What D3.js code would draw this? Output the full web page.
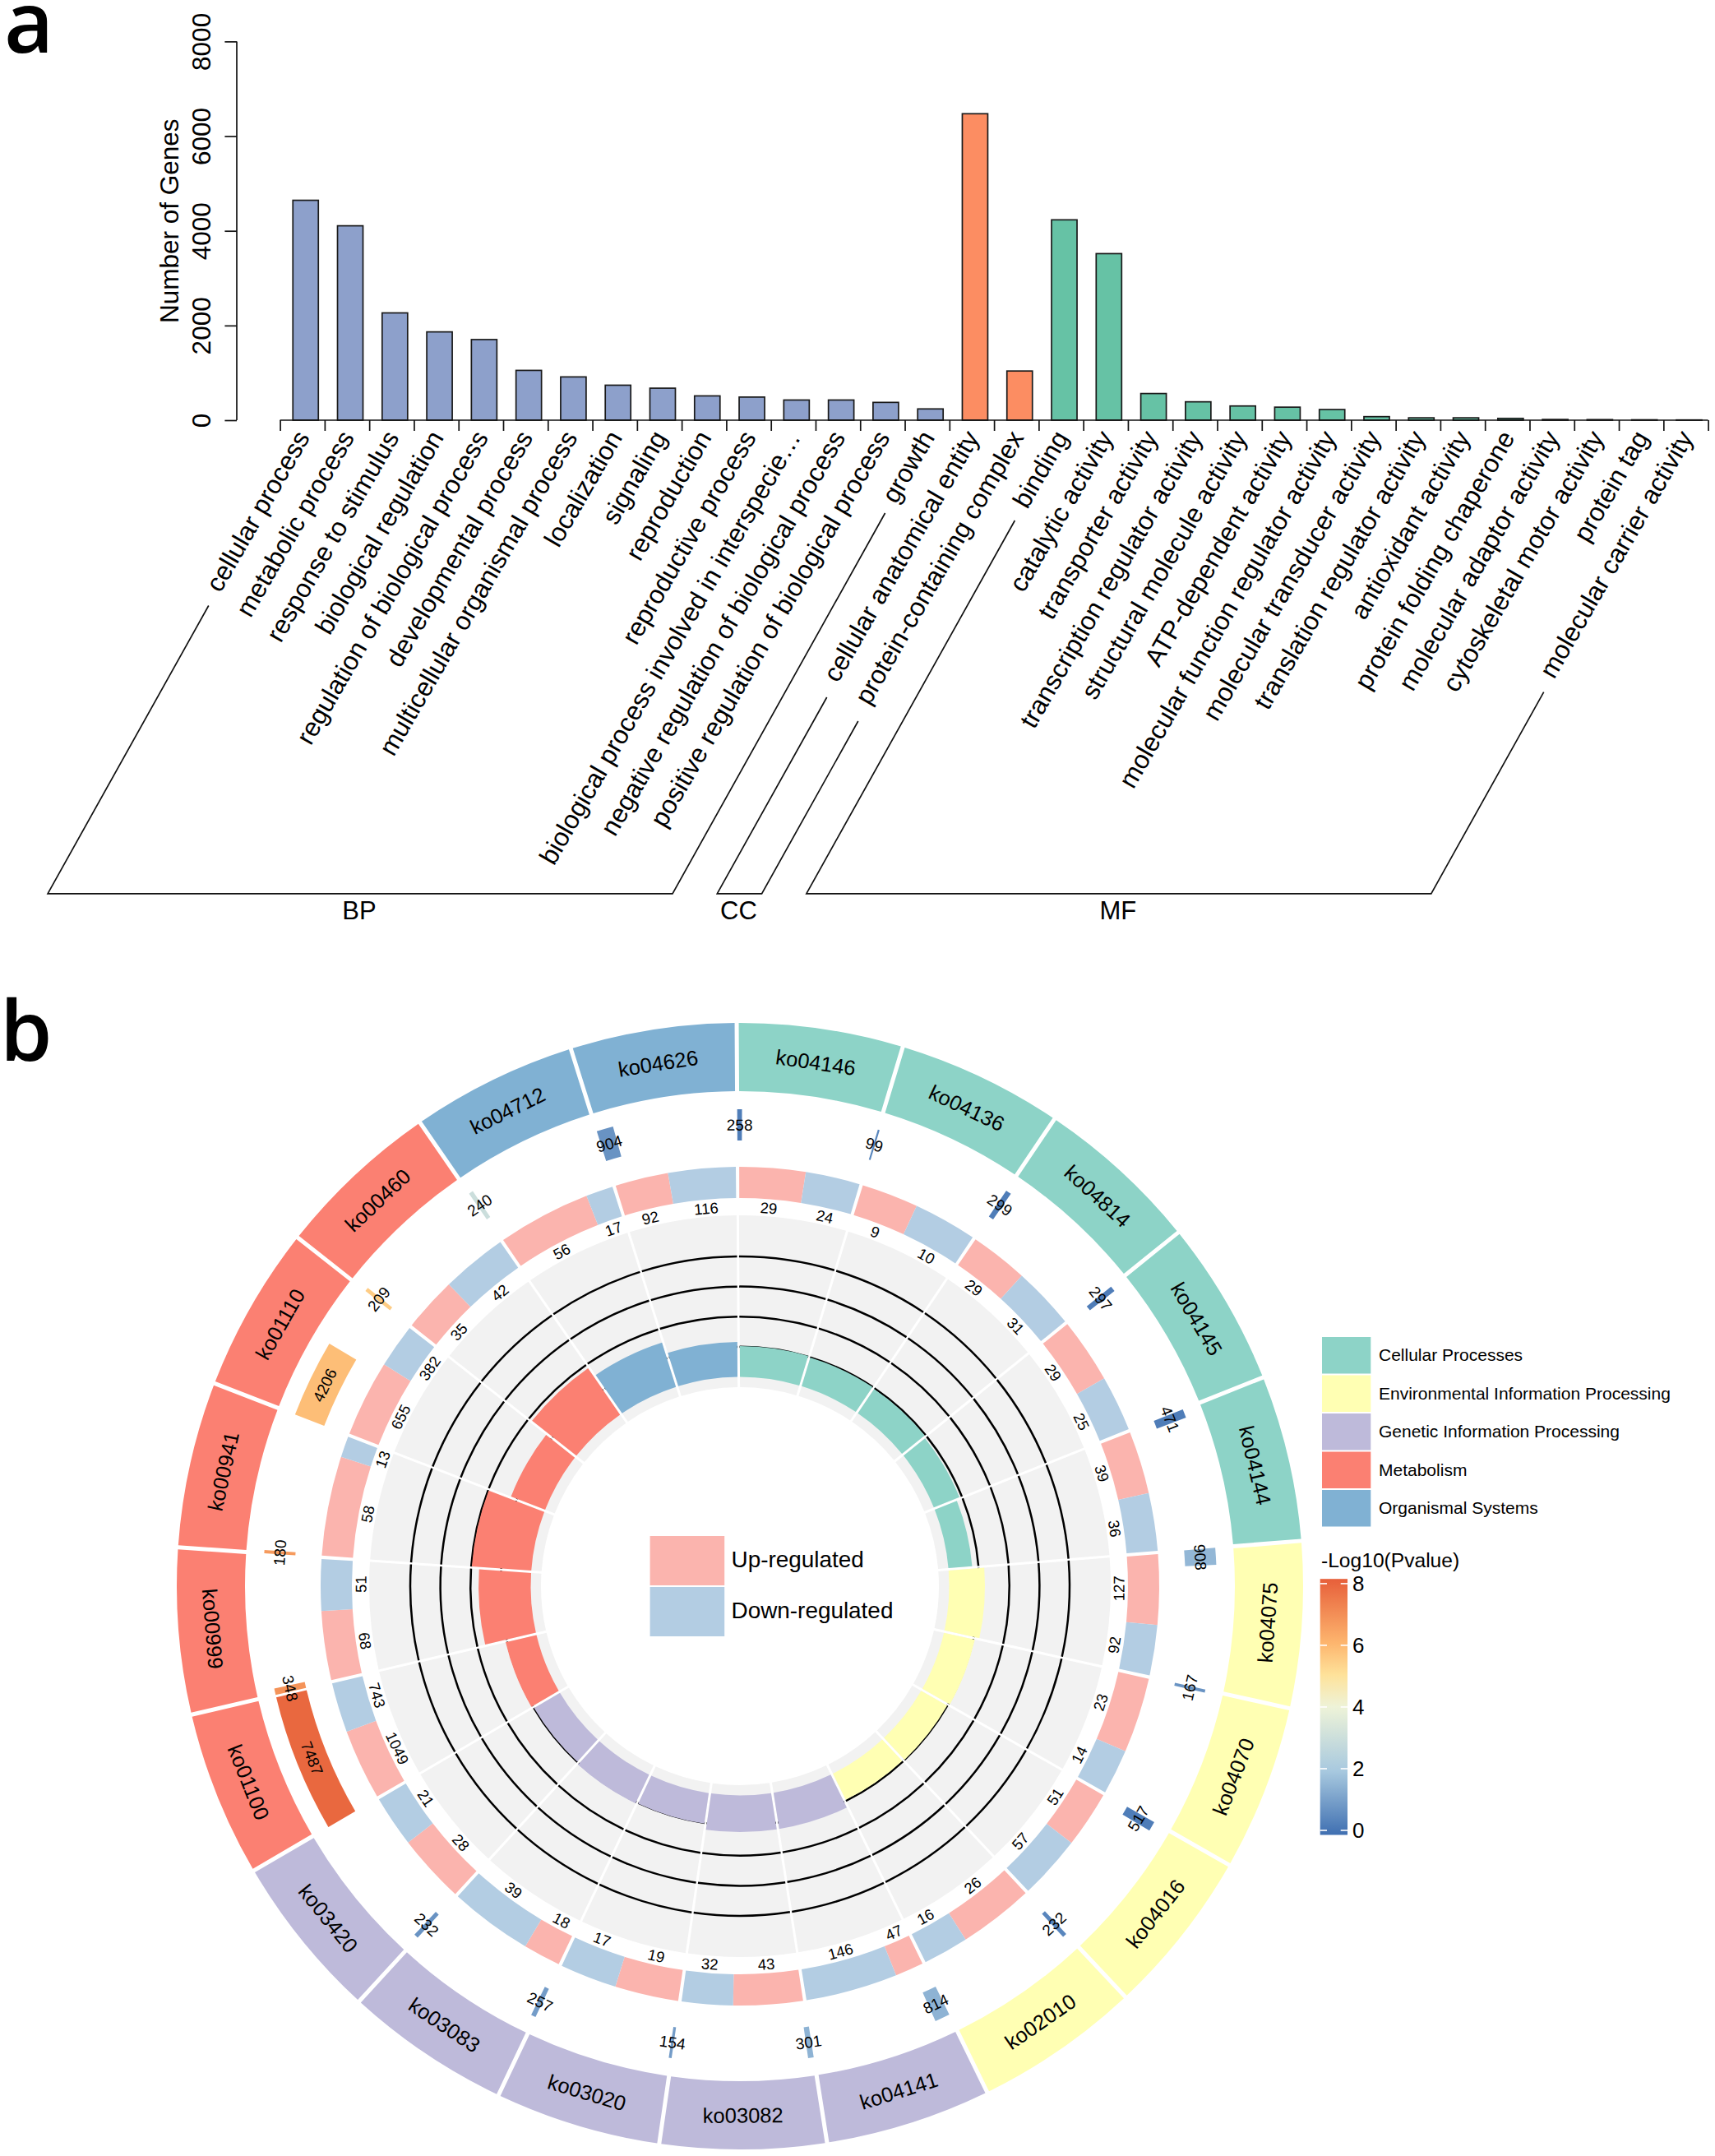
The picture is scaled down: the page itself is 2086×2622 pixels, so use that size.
<!DOCTYPE html>
<html><head><meta charset="utf-8">
<style>html,body{margin:0;padding:0;background:#fff}svg{display:block}text{font-family:"Liberation Sans",Arial,sans-serif;fill:#000}</style>
<script src="https://cdn.jsdelivr.net/npm/d3@7/dist/d3.min.js"></script>
</head><body><svg id="c" width="2086" height="2622"></svg>
<script>
// ---------- Panel a data ----------
const goTerms = ["cellular process","metabolic process","response to stimulus","biological regulation","regulation of biological process","developmental process","multicellular organismal process","localization","signaling","reproduction","reproductive process","biological process involved in interspecie…","negative regulation of biological process","positive regulation of biological process","growth","cellular anatomical entity","protein-containing complex","binding","catalytic activity","transporter activity","transcription regulator activity","structural molecule activity","ATP-dependent activity","molecular function regulator activity","molecular transducer activity","translation regulator activity","antioxidant activity","protein folding chaperone","molecular adaptor activity","cytoskeletal motor activity","protein tag","molecular carrier activity"];
const goCounts = [4645,4106,2266,1865,1703,1052,914,739,676,513,488,426,426,376,238,6473,1039,4232,3518,563,388,300,275,225,75,50,50,38,15,12,8,5];
const goClass = ["BP","BP","BP","BP","BP","BP","BP","BP","BP","BP","BP","BP","BP","BP","BP","CC","CC","MF","MF","MF","MF","MF","MF","MF","MF","MF","MF","MF","MF","MF","MF","MF"];
const classNames = ["BP","CC","MF"];
const classColors = ["#8DA0CB","#FC8D62","#66C2A5"];
const yTicks = [0,2000,4000,6000,8000];
// label-clearance of each bracket arm (y of the arm's upper end: first term, last term)
const bracketTops = [[736.5,624],[848,877],[633,841.7]];

// ---------- Panel b data ----------
const koIds = ["ko04146","ko04136","ko04814","ko04145","ko04144","ko04075","ko04070","ko04016","ko02010","ko04141","ko03082","ko03020","ko03083","ko03420","ko01100","ko00999","ko00941","ko01110","ko00460","ko04712","ko04626"];
const koGroup = [0,0,0,0,0,1,1,1,1,2,2,2,2,2,3,3,3,3,3,4,4];
const groupNames = ["Cellular Processes","Environmental Information Processing","Genetic Information Processing","Metabolism","Organismal Systems"];
const groupColors = ["#8DD3C7","#FFFFB3","#BEBADA","#FB8072","#80B1D3"];
const geneCounts = [258,99,299,297,471,908,167,517,232,814,301,154,257,232,7487,348,180,4206,209,240,904];
const pLog = [0.3,0.5,0.3,0.3,0.3,1.6,0.8,0.3,0.5,1.5,1.5,1.0,1.0,0.8,7.8,6.8,6.6,5.8,5.5,3.0,0.8];
const upCounts = [29,9,29,29,39,127,23,51,26,47,43,19,18,28,1049,68,58,655,35,56,92];
const downCounts = [24,10,31,25,36,92,14,57,16,146,32,17,39,21,743,51,13,382,42,17,116];
const richFactor = [0.256,0.249,0.242,0.229,0.198,0.297,0.263,0.249,0.242,0.304,0.304,0.256,0.263,0.249,0.263,0.433,0.495,0.304,0.468,0.386,0.29];
const richTicks = [0.25,0.5,0.75,1];
const pStops = [0,2,4,5,6,8];
const pColors = ["#3F6FB1","#A8C9DF","#EEF3D8","#FEE29A","#FDB56E","#E75F3A"];
const pTicks = [0,2,4,6,8];
const regNames = ["Up-regulated","Down-regulated"];
const regColors = ["#FBB4AE","#B3CDE3"];

const svg = d3.select("#c");
const xf = (x,y,r)=>`translate(${x},${y})`+(r?` rotate(${r})`:"");

// panel letters
svg.append("text").attr("x",5).attr("y",64).attr("font-size",104).attr("font-weight",600).style("font-family","'Open Sans'").text("a");
svg.append("text").attr("x",0).attr("y",1290).attr("font-size",102).attr("font-weight",600).style("font-family","'Open Sans'").text("b");

// ---------- Panel a ----------
const yS = d3.scaleLinear().domain([0,8000]).range([511,50.4]);
const xT = d3.scaleLinear().domain([0,goTerms.length]).range([340.6,2077.6]);
const xB = d3.scaleBand().domain(goTerms).range([344.6,2081.6]).paddingInner(1-31/54.28).paddingOuter((1-31/54.28)/2);
const cCol = d3.scaleOrdinal(classNames,classColors);
const a = svg.append("g");

a.selectAll("rect").data(goTerms).join("rect")
  .attr("x",d=>xB(d)).attr("width",xB.bandwidth())
  .attr("y",(d,i)=>yS(goCounts[i])).attr("height",(d,i)=>yS(0)-yS(goCounts[i]))
  .attr("fill",(d,i)=>cCol(goClass[i])).attr("stroke","#1a1a1a").attr("stroke-width",1.7);

const yAx = a.append("g").attr("transform",xf(288,0)).call(d3.axisLeft(yS).tickValues(yTicks).tickSize(14.6).tickFormat(d3.format("d")));
yAx.selectAll("line,path").attr("stroke","#111").attr("stroke-width",1.7);
yAx.selectAll("text").attr("font-size",31.5)
   .attr("x",null).attr("dy",null).attr("text-anchor","middle")
   .attr("transform",xf(256-288,0,-90));
yAx.select(".domain").attr("d",`M0,${yS(8000)}V${yS(0)}`);
a.append("text").attr("font-size",31.5).attr("text-anchor","middle").attr("transform",xf(217,268.8,-90)).text("Number of Genes");

const xAx = a.append("g").attr("transform",xf(0,511)).call(d3.axisBottom(xT).tickValues(d3.range(goTerms.length+1)).tickSize(13).tickFormat(""));
xAx.selectAll("line,path").attr("stroke","#111").attr("stroke-width",1.7);
xAx.select(".domain").attr("d",`M${xT(0)},0H${xT(goTerms.length)}`);

const labelShift = 10, labelY = 532, bottomY = 1086.8, slope = 1.79;
a.selectAll("text.t").data(goTerms).join("text").attr("class","t")
  .attr("font-size",31.6).attr("text-anchor","end")
  .attr("transform",(d,i)=>xf(xT(i+.5)+labelShift,labelY,-60)).text(d=>d);

classNames.forEach((c,k)=>{
  const idx = goClass.map((g,i)=>g===c?i:-1).filter(i=>i>=0);
  const xa = xT(idx[0]+.5)+12, xb = xT(idx[idx.length-1]+.5)+12;
  const foot = x=>x-(bottomY-511)/slope;
  const arm = (x,top)=>[foot(x)+(bottomY-top)/slope,top];
  a.append("path").attr("fill","none").attr("stroke","#111").attr("stroke-width",1.7)
   .attr("d",d3.line()([arm(xa,bracketTops[k][0]),[foot(xa),bottomY],[foot(xb),bottomY],arm(xb,bracketTops[k][1])]));
  a.append("text").attr("font-size",31).attr("text-anchor","middle").attr("x",(foot(xa)+foot(xb))/2-1).attr("y",1118).text(c);
});

// ---------- Panel b ----------
const cx = 900, cy = 1929;
const b = svg.append("g").attr("transform",xf(cx,cy));
const deg = Math.PI/180;
const sectorW = 360/koIds.length, startA = -0.33;
const sA = d3.scaleLinear().domain([0,koIds.length]).range([startA,startA+360]);
const arc = d3.arc().padRadius(100);
const pArc = (r0,r1,a0,a1,gap)=>arc({innerRadius:r0,outerRadius:r1,startAngle:a0*deg,endAngle:a1*deg,padAngle:(gap||0)/100});
const pCol = d3.scaleLinear().domain(pStops).range(pColors);
const ringText = (sel,angle,r)=>{
  const flip = ((angle%360)+360)%360>90 && ((angle%360)+360)%360<270;
  sel.attr("transform",`rotate(${angle}) translate(0,${-r})`+(flip?" rotate(180)":"")).attr("text-anchor","middle").attr("dy",".35em");
};

// outer category ring
koIds.forEach((k,i)=>{
  b.append("path").attr("d",pArc(602,685,sA(i),sA(i+1),5)).attr("fill",groupColors[koGroup[i]]);
  b.append("text").attr("font-size",25.5).call(ringText,sA(i+.5),643.5).text(k);
});

// gene-count bars
const wS = d3.scaleLinear().domain([0,d3.max(geneCounts)]).range([0,sectorW-0.3]);
koIds.forEach((k,i)=>{
  const a0 = sA(i), a1 = a0+wS(geneCounts[i]);
  b.append("path").attr("d",pArc(542,580,a0,a1)).attr("fill",pCol(pLog[i]));
  b.append("text").attr("font-size",19).call(ringText,(a0+a1)/2,561).text(geneCounts[i]);
});

// up / down ring
koIds.forEach((k,i)=>{
  const pa = 4/491/deg/2;
  const s = sA(i), e = sA(i+1), m = s+(e-s)*upCounts[i]/(upCounts[i]+downCounts[i]);
  b.append("path").attr("d",pArc(472,510,s+pa,m)).attr("fill",regColors[0]);
  b.append("path").attr("d",pArc(472,510,m,e-pa)).attr("fill",regColors[1]);
  b.append("text").attr("font-size",18.5).call(ringText,(s+m)/2,461).text(upCounts[i]);
  b.append("text").attr("font-size",18.5).call(ringText,(m+e)/2,461).text(downCounts[i]);
});

// enrichment track
const rS = d3.scaleLinear().domain([0,1]).range([254.5,401]);
koIds.forEach((k,i)=>{
  b.append("path").attr("d",pArc(242,451,sA(i),sA(i+1),3)).attr("fill","#F2F2F2");
});
koIds.forEach((k,i)=>{
  richTicks.forEach(t=>{
    b.append("path").attr("d",pArc(rS(t)-1.25,rS(t)+1.25,sA(i),sA(i+1),2.4)).attr("fill","#000");
  });
});
koIds.forEach((k,i)=>{
  b.append("path").attr("d",pArc(rS(0),rS(richFactor[i]),sA(i),sA(i+1),3)).attr("fill",groupColors[koGroup[i]]);
});

// centre legend
regNames.forEach((n,i)=>{
  svg.append("rect").attr("x",790.6).attr("width",90.6).attr("y",1868+i*62).attr("height",60).attr("fill",regColors[i]);
  svg.append("text").attr("x",889.5).attr("y",1906+i*62).attr("font-size",27.9).text(n);
});

// category legend
groupNames.forEach((n,i)=>{
  svg.append("rect").attr("x",1608).attr("width",59.3).attr("y",1626+i*46.5).attr("height",44.5).attr("fill",groupColors[i]);
  svg.append("text").attr("x",1677).attr("y",1655+i*46.5).attr("font-size",21).text(n);
});

// colour bar
svg.append("text").attr("x",1607).attr("y",1905.5).attr("font-size",24.6).text("-Log10(Pvalue)");
const cS = d3.scaleLinear().domain([0,8]).range([2226,1925.9]);
const grad = svg.append("defs").append("linearGradient").attr("id","pg").attr("x1",0).attr("y1",1).attr("x2",0).attr("y2",0);
pStops.forEach((s,i)=>grad.append("stop").attr("offset",s/8).attr("stop-color",pColors[i]));
svg.append("rect").attr("x",1605.7).attr("width",33.3).attr("y",1920.2).attr("height",311.3).attr("fill","url(#pg)");
pTicks.forEach(t=>{
  [[1605.7,1614],[1630.7,1639]].forEach(p=>svg.append("line").attr("x1",p[0]).attr("x2",p[1]).attr("y1",cS(t)).attr("y2",cS(t)).attr("stroke","#fff").attr("stroke-width",1.6));
  svg.append("text").attr("x",1645).attr("y",cS(t)+9).attr("font-size",26).text(t);
});
</script></body></html>
